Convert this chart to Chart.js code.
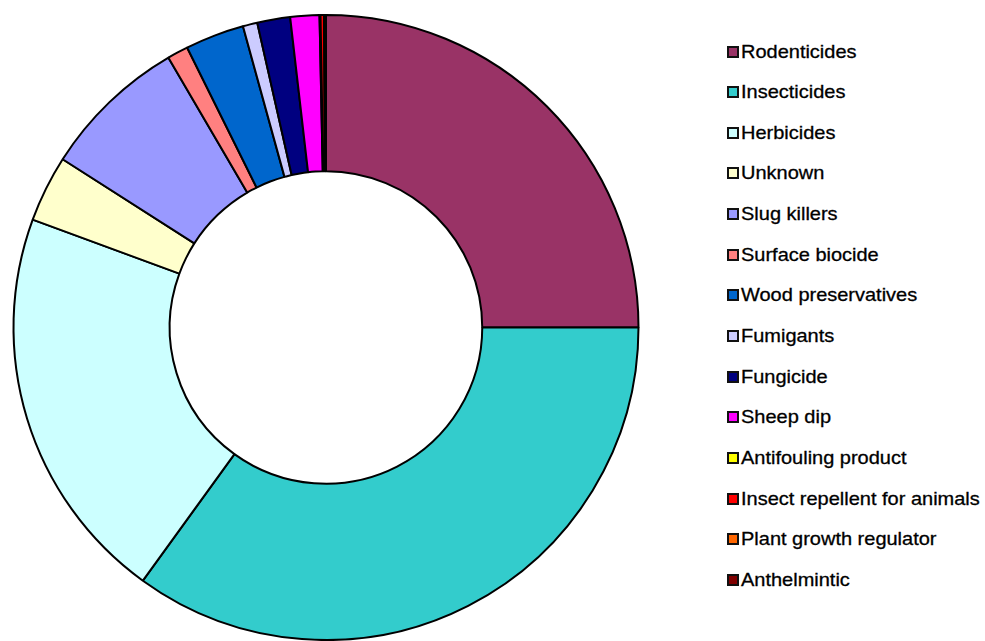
<!DOCTYPE html>
<html>
<head>
<meta charset="utf-8">
<script src="https://cdn.jsdelivr.net/npm/chart.js@4"></script>
<style>
    body { margin: 0; background: #fff; }
    #wrap { position: relative; width: 985px; height: 641px; overflow: hidden; }
    #chartBox { position: absolute; left: 0; top: 0; width: 652px; height: 641px; }
    #legend { position: absolute; left: 727px; top: 0; }
    .item { position: absolute; left: 0; height: 20px; white-space: nowrap;
        font-family: "Liberation Sans", Arial, sans-serif; font-size: 18.5px; color: #000; }
    .swatch { position: absolute; left: 0; top: 4px; width: 8px; height: 8px;
        border: 2px solid #111; }
    .label { position: absolute; left: 14px; top: -1px; transform: scaleX(1.08);
        transform-origin: left center; -webkit-text-stroke: 0.3px #000; }
</style>
</head>
<body>
<div id="wrap">
    <div id="chartBox"><canvas id="myChart" width="652" height="641"></canvas></div>
    <div id="legend"></div>
</div>
<script>
const categories = [
    "Rodenticides",
    "Insecticides",
    "Herbicides",
    "Unknown",
    "Slug killers",
    "Surface biocide",
    "Wood preservatives",
    "Fumigants",
    "Fungicide",
    "Sheep dip",
    "Antifouling product",
    "Insect repellent for animals",
    "Plant growth regulator",
    "Anthelmintic",
];

// share of cases, %
const shares = [25.0, 34.96, 20.64, 3.44, 7.54, 1.08, 3.05, 0.75, 1.7, 1.5, 0.05, 0.18, 0.05, 0.05];

const colors = [
    "#993366", "#33CCCC", "#CCFFFF", "#FFFFCC", "#9999FF", "#FF8080", "#0066CC",
    "#CCCCFF", "#000080", "#FF00FF", "#FFFF00", "#FF0000", "#FF6600", "#800000",
];

const data = {
    labels: categories,
    datasets: [
        {
            data: shares,
            backgroundColor: colors,
            borderColor: "#000",
            borderWidth: 2,
        },
    ],
};

const config = {
    type: "doughnut",
    data: data,
    options: {
        responsive: false,
        animation: false,
        cutout: "50%",
        layout: {
            padding: { top: 14, bottom: 0, left: 0, right: 0 },
        },
        plugins: {
            legend: { display: false },
            tooltip: { enabled: false },
        },
    },
};

document.addEventListener("DOMContentLoaded", function () {
    const ctx = document.getElementById("myChart").getContext("2d");
    const myChart = new Chart(ctx, config);

    // legend built from the same arrays
    const legend = document.getElementById("legend");
    categories.forEach((name, i) => {
        const row = document.createElement("div");
        row.className = "item";
        row.style.top = (51.5 + i * 40.66 - 10) + "px";
        const sw = document.createElement("span");
        sw.className = "swatch";
        sw.style.background = colors[i];
        const lb = document.createElement("span");
        lb.className = "label";
        lb.textContent = name;
        row.appendChild(sw);
        row.appendChild(lb);
        legend.appendChild(row);
    });
});
</script>
</body>
</html>
